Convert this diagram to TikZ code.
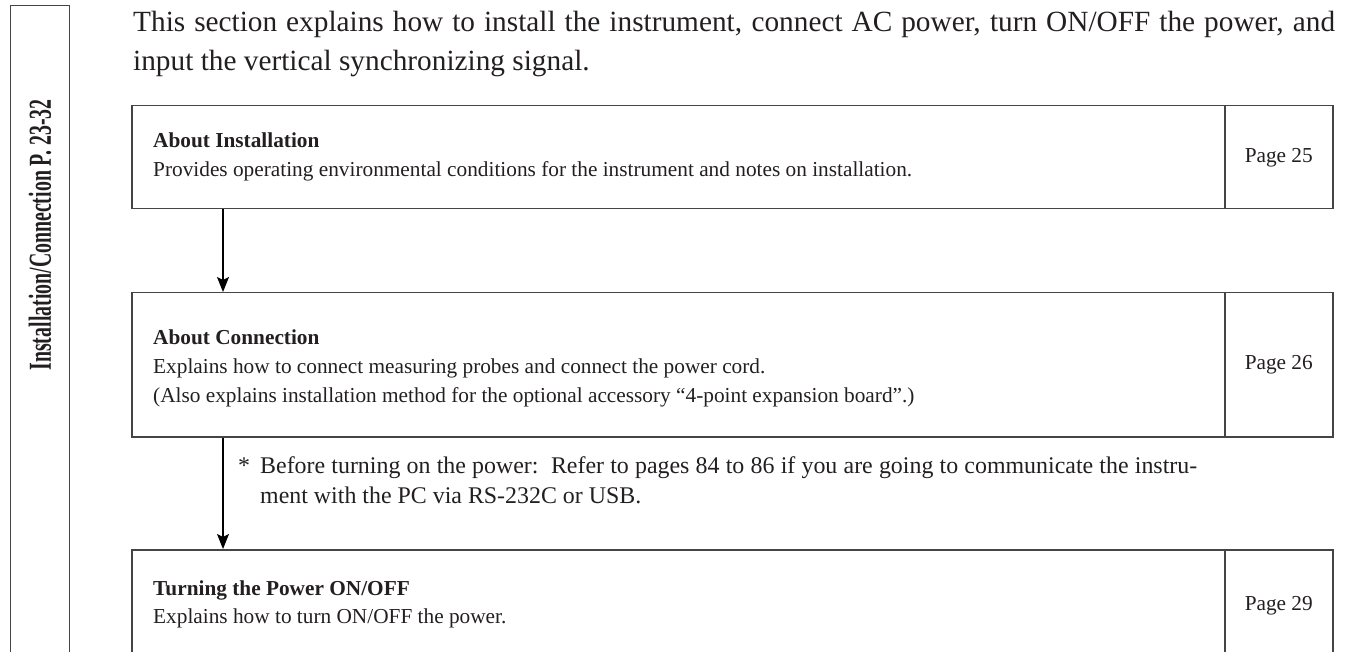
\documentclass[tikz,border=0pt]{standalone}
\usepackage{fontspec}
\setmainfont{Liberation Serif}
\usetikzlibrary{arrows.meta}
\definecolor{ink}{HTML}{231F20}
\definecolor{rulecol}{HTML}{454545}
\begin{document}
\begin{tikzpicture}[x=1pt,y=-1pt,
  boxstyle/.style={draw=rulecol, line width=1.5pt, rectangle, inner sep=0pt, anchor=north west},
  pagecell/.style={boxstyle, text=ink, font=\fontsize{21.3}{25}\selectfont},
  txt/.style={anchor=base west, inner sep=0pt, text=ink},
  lead/.style={txt, font=\fontsize{29.3}{39}\selectfont},
  head/.style={txt, font=\fontsize{21.3}{29}\selectfont\bfseries},
  body/.style={txt, font=\fontsize{21.3}{29}\selectfont},
  note/.style={txt, font=\fontsize{23.9}{30}\selectfont},
  arr/.style={draw=black, line width=1.3pt, -{Stealth[length=15pt,width=12pt,inset=3pt]}}]
\path[use as bounding box] (0,0) rectangle (1349,652);
\clip (0,0) rectangle (1349,652);

% sidebar
\node[boxstyle, line width=1.3pt, minimum width=59pt, minimum height=700pt] (side) at (10,5) {};
\node[rotate=90, inner sep=0pt, text=ink, font=\fontsize{32}{36}\selectfont\bfseries] (sidetxt) at (40,235)
  {\scalebox{0.62}[1]{Installation/Connection P. 23-32}};

% lead text
\node[lead] (lead1) at (133,32) {\makebox[1202pt][s]{This section explains how to install the instrument, connect AC power, turn ON/OFF the power, and}};
\node[lead] (lead2) at (133,71) {input the vertical synchronizing signal.};

% box 1
\node[boxstyle, minimum width=1093pt, minimum height=103pt] (b1) at (131,105) {};
\node[pagecell, minimum width=108pt, minimum height=103pt] (p1) at (1224,105) {Page 25};
\node[head] (h1) at (153,148) {About Installation};
\node[body] (t1) at (153,177) {Provides operating environmental conditions for the instrument and notes on installation.};

% box 2
\node[boxstyle, minimum width=1093pt, minimum height=144pt] (b2) at (131,292) {};
\node[pagecell, minimum width=108pt, minimum height=144pt] (p2) at (1224,292) {Page 26};
\node[head] (h2) at (153,344) {About Connection};
\node[body] (t2) at (153,373) {Explains how to connect measuring probes and connect the power cord.};
\node[body] (t2b) at (153,402) {(Also explains installation method for the optional accessory “4-point expansion board”.)};

% note
\node[note] (star) at (238,473) {*};
\node[note] (n1) at (260,473) {\makebox[937pt][s]{Before turning on the power:\ \ Refer to pages 84 to 86 if you are going to communicate the instru-}};
\node[note] (n2) at (260,503) {ment with the PC via RS-232C or USB.};

% box 3
\node[boxstyle, minimum width=1093pt, minimum height=112pt] (b3) at (131,549) {};
\node[pagecell, minimum width=108pt, minimum height=112pt] (p3) at (1224,549) {Page 29};
\node[head] (h3) at (153,595) {Turning the Power ON/OFF};
\node[body] (t3) at (153,623) {Explains how to turn ON/OFF the power.};

% connectors
\draw[arr] ([xshift=92pt]b1.south west) -- ([xshift=92pt]b2.north west);
\draw[arr] ([xshift=92pt]b2.south west) -- ([xshift=92pt]b3.north west);
\end{tikzpicture}
\end{document}
